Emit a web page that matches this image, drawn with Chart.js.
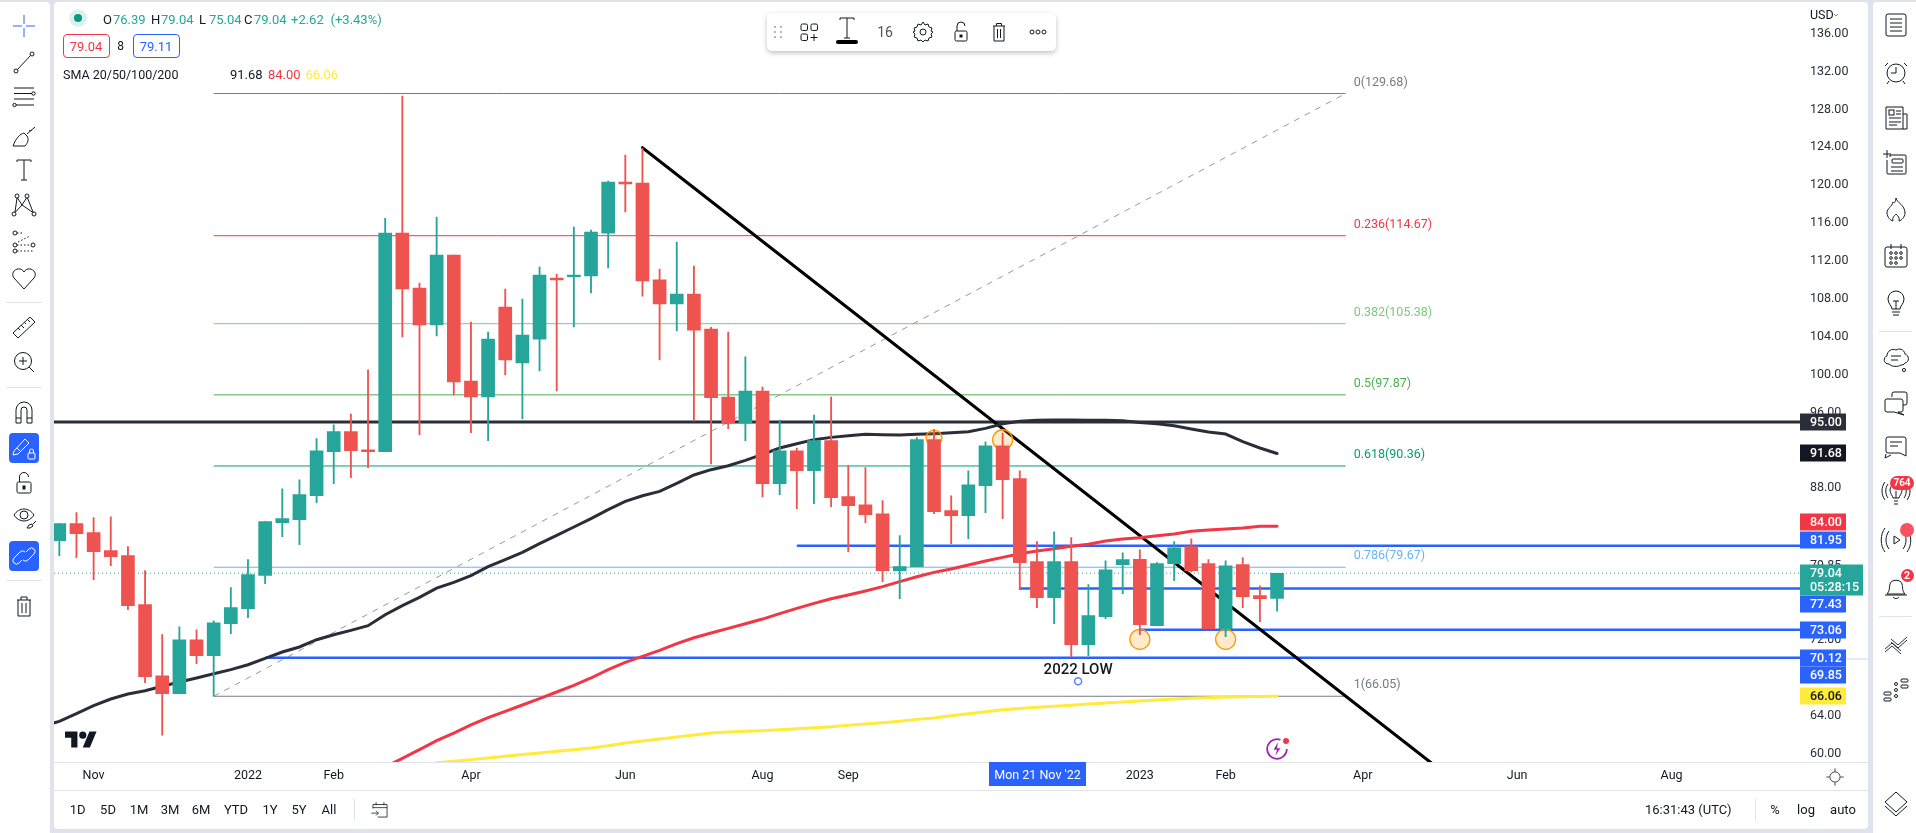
<!DOCTYPE html>
<html>
<head>
<meta charset="utf-8">
<title>Chart</title>
<script src="https://cdn.jsdelivr.net/npm/chart.js@4"></script>
<style>
  html,body{margin:0;padding:0;width:1916px;height:833px;overflow:hidden;background:#e0e3eb;font-family:Roboto,"Liberation Sans",sans-serif;color:#131722}
  .panel{position:absolute;background:#fff}
  .t{position:absolute;white-space:pre;line-height:16px;height:16px;margin-top:-8px;font-size:12.5px}
  .rule{position:absolute;background:#e0e3eb}
  svg.ic{position:absolute;fill:none;stroke:#131722;stroke-width:1;overflow:visible}
  canvas{position:absolute;left:0;top:0}
  #layer{position:absolute;left:0;top:0;width:1916px;height:833px}
</style>
</head>
<body>
<div class="panel" style="left:0;top:2px;width:50px;height:831px;border-radius:0 4px 0 0"></div>
<div class="panel" style="left:54px;top:2px;width:1814px;height:827px;border-radius:4px"></div>
<div class="panel" style="left:1873px;top:2px;width:43px;height:831px;border-radius:4px 0 0 0"></div>
<div class="rule" style="left:54px;top:762px;width:1814px;height:1px"></div>
<div class="rule" style="left:54px;top:790px;width:1814px;height:1px"></div>
<canvas id="chart" width="1916" height="833"></canvas>
<div id="layer"></div>
<script>
// candles, weekly, oldest first
const opens  = [82.47,84.27,83.32,81.42,80.89,75.72,68.22,66.32,72.02,70.33,73.71,75.3,78.8,84.37,84.7,87.23,91.87,93.98,92.07,91.87,114.95,109.15,105.24,112.63,99.33,97.64,107.14,101.23,103.76,110.2,110.34,110.42,114.95,120.34,120.23,110,107.46,108.52,104.82,97.64,94.9,98.27,88.49,91.97,89.86,93.03,87.12,86.27,85.32,79.31,79.73,93.14,85.64,85.11,88.28,92.5,89.02,80.26,76.46,80.26,71.5,74.45,79.94,80.5,73.5,80.05,81.84,80.05,73.18,79.94,76.67,76.39];
const highs  = [84.27,85.43,84.9,85,81.84,79.31,72.55,73.39,73.07,74.02,77.52,80.47,84.48,87.96,88.9,93.25,94.7,95.85,100.5,116.5,129.41,109.68,116.64,112.63,105.56,104.5,109.04,107.99,111.36,110.63,115.59,115.27,120.44,123.19,123.9,111.15,114,111.47,105,104.5,101.87,98.7,95.2,92.26,95.74,97.64,90.39,90.18,86.7,83,93.35,94.2,87.22,89.86,92.92,93.84,89.86,82.37,83.42,82.79,77.83,80.36,81.2,81.5,80.15,82.37,82.68,80.47,80.36,80.68,77.72,79.04];
const lows   = [80.89,80.68,78.36,79.83,75.19,67.49,61.93,66.32,69.49,66.05,72.66,74.35,77.93,82.9,82.05,86.48,88.5,89.12,90.18,91.87,103.98,93.66,104.08,97.85,93.87,93.03,99.97,95.32,100.39,98.28,105.03,108.62,111.26,117.17,108.3,101.55,104.61,95.1,90.57,94.3,93.03,87.1,87.33,85.85,86.38,86.06,81.31,84.37,78.15,76.35,79.73,85.32,82.16,82.68,85.43,84.8,77.3,75.4,73.71,70.23,70.33,74.24,76.88,72.55,73.5,78.25,79.17,73.18,72.34,75.4,73.92,75.04];
const closes = [84.27,83.21,81.31,80.78,75.61,68.12,66.32,72.02,70.33,73.81,75.4,78.9,84.48,84.8,87.33,91.97,93.98,91.97,91.87,114.95,109.04,105.24,112.63,99.23,97.64,103.76,101.55,104.19,110.52,110,110.52,115.06,120.34,120.13,109.89,107.46,108.52,104.71,97.57,94.9,98.27,88.49,91.97,89.86,93.03,87.01,86.17,85.22,79.31,79.73,93.14,85.53,85.11,88.38,92.5,88.91,80.15,76.46,80.26,71.5,74.56,79.41,80.47,73.6,80.05,81.73,79.31,73.18,79.83,76.56,76.35,79.04];

// moving averages, each starts at its own candle index
const sma50Start = -1;
const sma50 = [62.9,63.4,64.21,65.06,65.76,66.29,66.64,67.1,67.55,67.98,68.43,68.86,69.38,70.05,70.72,71.25,72.02,72.55,73.01,73.5,74.66,75.61,76.49,77.47,78.08,78.78,79.73,80.47,81.24,82.16,83.04,83.92,84.8,85.75,86.63,87.22,87.68,88.53,89.41,89.97,90.39,90.95,91.59,92.26,92.71,93.14,93.38,93.56,93.7,93.66,93.63,93.7,93.77,93.87,93.98,94.33,94.82,95.07,95.18,95.21,95.21,95.18,95.18,95.14,94.96,94.82,94.61,94.26,93.94,93.73,92.92,92.26,91.68];
const sma100Start = 19;
const sma100 = [58.58,59.5,60.41,61.36,62.17,63.02,63.79,64.46,65.13,65.8,66.5,67.2,67.98,68.86,69.63,70.26,70.9,71.6,72.23,72.73,73.22,73.71,74.2,74.77,75.33,75.86,76.35,76.74,77.16,77.62,78.15,78.67,79.13,79.48,79.9,80.33,80.71,81.1,81.38,81.63,81.88,82.09,82.44,82.65,82.79,83,83.18,83.46,83.6,83.71,83.81,83.99,84];
const sma200Start = 22;
const sma200 = [59.04,59.18,59.36,59.53,59.71,59.89,60.06,60.24,60.41,60.59,60.83,61.11,61.33,61.54,61.75,61.96,62.17,62.27,62.35,62.42,62.52,62.63,62.73,62.84,62.98,63.12,63.26,63.4,63.61,63.75,64,64.21,64.42,64.63,64.77,64.88,64.99,65.09,65.23,65.34,65.44,65.55,65.65,65.76,65.83,65.9,65.97,66,66.03,66.06];

// fib retracement drawing
const fibRatios = ['0','0.236','0.382','0.5','0.618','0.786','1'];
const fibPrices = [129.68,114.67,105.38,97.87,90.36,79.67,66.05];
const fibColors = ['#787b86','#f23645','#81c784','#4caf50','#089981','#64b5f6','#787b86'];
const fibFrom = 9, fibTo = 75;

// hand drawn levels
const blueLevels = [81.95,77.43,73.06,70.12];
const blueFrom = [43,56,63,12];
const level95 = 95;
const lastPrice = 79.04;
const trendX = [34,80];
const trendY = [123.96,59];
const circleX = [51,55,63,68];
const circleY = [93.31,93.13,72.06,72.06];
const lowNoteX = 59.4, lowNoteY = 68.76, lowHandleY = 67.63;

// axes
const priceTicks = [136,132,128,124,120,116,112,108,104,100,96,88,79.85,72,64,60];
const timeTicks = [2,11,16,24,33,41,46,63,68,76,85,94];
const timeLabels = ['Nov','2022','Feb','Apr','Jun','Aug','Sep','2023','Feb','Apr','Jun','Aug'];
// chart.js keeps the y scale about 11px from the top, so yMax is the price at that line
const xMin = -0.31, xMax = 101.49, yMin = 59.11, yMax = 138.36;

// price scale tags
const tagValues = [95,91.68,84,81.95,77.43,73.06,70.12,69.85,66.06];
const tagColors = ['#2a2e39','#131722','#f23645','#2962ff','#2962ff','#2962ff','#2962ff','#2962ff','#ffeb3b'];
const tagText   = ['#fff','#fff','#fff','#fff','#fff','#fff','#fff','#fff','#131722'];
const tagNudge  = [0,0,-4,-6,16,0,0,14.5,0];

const UP = '#26a69a', DOWN = '#ef5350';
const FONT = 'Roboto, "Liberation Sans", sans-serif';
const idx = opens.map((_,i)=>i);
const candleColor = idx.map(i=> closes[i] >= opens[i] ? UP : DOWN);

function seq(start, vals){ return vals.map((y,i)=>({x:start+i, y})); }
function lineSet(data, color, width, extra){
  return Object.assign({type:'line', data, borderColor:color, borderWidth:width, pointRadius:0, tension:0, order:5, borderCapStyle:'round'}, extra||{});
}

const datasets = [
  {type:'bar', data:idx.map(i=>({x:i,y:[opens[i],closes[i]]})), backgroundColor:candleColor, barThickness:13, grouped:false, order:0},
  {type:'bar', data:idx.map(i=>({x:i,y:[lows[i],highs[i]]})), backgroundColor:candleColor, barThickness:1.2, grouped:false, order:1},
  lineSet(seq(sma50Start,sma50),'#2a2e39',3,{order:3}),
  lineSet(seq(sma100Start,sma100),'#f23645',3,{order:3}),
  lineSet(seq(sma200Start,sma200),'#ffeb3b',3,{order:3}),
  lineSet([{x:trendX[0],y:trendY[0]},{x:trendX[1],y:trendY[1]}],'#000',3,{order:4}),
  lineSet([{x:xMin,y:level95},{x:xMax,y:level95}],'#2a2e39',3),
  lineSet([{x:xMin,y:lastPrice},{x:xMax,y:lastPrice}],UP,1,{borderDash:[1,3],borderCapStyle:'butt'}),
  lineSet([{x:fibFrom,y:fibPrices[6]},{x:fibTo,y:fibPrices[0]}],'#9598a1',1,{borderDash:[6,6],borderCapStyle:'butt',order:6}),
  {type:'line', data:circleX.map((x,i)=>({x,y:circleY[i]})), showLine:false, pointRadius:[8,10,10,10], pointBackgroundColor:'rgba(255,152,0,0.2)', pointBorderColor:'#ff9800', pointBorderWidth:1.3, order:2},
  {type:'line', data:[{x:lowNoteX,y:lowHandleY}], showLine:false, pointRadius:3.5, pointBackgroundColor:'#fff', pointBorderColor:'#5b82ff', pointBorderWidth:1.5, order:2}
];
fibPrices.forEach((p,i)=> datasets.push(lineSet([{x:fibFrom,y:p},{x:fibTo,y:p}],fibColors[i],1,{order:6,borderCapStyle:'butt'})));
blueLevels.forEach((p,i)=> datasets.push(lineSet([{x:blueFrom[i],y:p},{x:xMax,y:p}],'#2962ff',2.5,{order:5,borderCapStyle:'butt'})));

// labels on the drawings and the tags on the price scale
const overlay = {
  id:'overlay',
  afterDraw(chart){
    const {ctx, scales:{x,y}} = chart;
    ctx.save();
    ctx.textBaseline = 'middle';
    ctx.textAlign = 'left';
    ctx.font = '12.5px '+FONT;
    fibPrices.forEach((p,i)=>{
      ctx.fillStyle = fibColors[i];
      ctx.fillText(fibRatios[i]+'('+p.toFixed(2)+')', x.getPixelForValue(fibTo)+8, y.getPixelForValue(p)-11);
    });
    ctx.fillStyle = '#131722';
    ctx.font = '500 15px '+FONT;
    ctx.textAlign = 'center';
    ctx.fillText('2022 LOW', x.getPixelForValue(lowNoteX), y.getPixelForValue(lowNoteY));

    ctx.textAlign = 'left';
    ctx.font = '500 12.5px '+FONT;
    const left = x.right, h = 17;
    tagValues.forEach((v,i)=>{
      const py = Math.round(y.getPixelForValue(v)+tagNudge[i]);
      ctx.fillStyle = tagColors[i];
      ctx.fillRect(left, py-h/2, 46, h);
      ctx.fillStyle = tagText[i];
      ctx.fillText(v.toFixed(2), left+10, py+0.5);
    });
    // countdown tag for the last candle
    const py = Math.round(y.getPixelForValue(lastPrice));
    ctx.fillStyle = UP;
    ctx.fillRect(left, py-8.5, 63, 31);
    ctx.fillStyle = '#fff';
    ctx.fillText(lastPrice.toFixed(2), left+10, py+0.5);
    ctx.fillText('05:28:15', left+10, py+14.5);
    ctx.restore();
  }
};

new Chart(document.getElementById('chart'), {
  type:'bar',
  data:{datasets},
  plugins:[overlay],
  options:{
    responsive:false,
    animation:false,
    layout:{padding:{left:54,top:2,right:50,bottom:43}},
    plugins:{legend:{display:false},tooltip:{enabled:false}},
    events:[],
    scales:{
      x:{
        type:'linear', offset:false, min:xMin, max:xMax,
        grid:{display:false,drawTicks:false}, border:{display:false},
        afterBuildTicks(s){ s.ticks = timeTicks.map(value=>({value})); },
        afterFit(s){ s.height = 28; s.paddingLeft = 0; s.paddingRight = 0; },
        ticks:{autoSkip:false,maxRotation:0,padding:6,color:'#131722',font:{family:FONT,size:12.5},callback:v=>timeLabels[timeTicks.indexOf(v)]}
      },
      y:{
        type:'linear', position:'right', min:yMin, max:yMax,
        grid:{display:false,drawTicks:false}, border:{display:false},
        afterBuildTicks(s){ s.ticks = priceTicks.map(value=>({value})); },
        afterFit(s){ s.width = 66; s.paddingTop = 0; s.paddingBottom = 0; },
        ticks:{autoSkip:false,padding:10,crossAlign:'near',color:'#2a2e39',font:{family:FONT,size:12.5},callback:v=>v.toFixed(2)}
      }
    }
  }
});

// ---- screen chrome around the chart ----
const layer = document.getElementById('layer');
function txt(x,y,s,color,size,weight,anchor){
  const d = document.createElement('div');
  d.className = 't';
  d.textContent = s;
  d.style.left = x+'px'; d.style.top = y+'px';
  if(color) d.style.color = color;
  if(size) d.style.fontSize = size+'px';
  if(weight) d.style.fontWeight = weight;
  if(anchor==='c') d.style.transform = 'translateX(-50%)';
  layer.appendChild(d);
  return d;
}
function box(x,y,w,h,css){
  const d = document.createElement('div');
  d.style.cssText = `position:absolute;left:${x}px;top:${y}px;width:${w}px;height:${h}px;box-sizing:border-box;`+(css||'');
  layer.appendChild(d);
  return d;
}
function icon(cx,cy,body,color,size){
  const s = size||28;
  const wrap = document.createElementNS('http://www.w3.org/2000/svg','svg');
  wrap.setAttribute('class','ic');
  wrap.setAttribute('viewBox','0 0 28 28');
  wrap.setAttribute('width',s); wrap.setAttribute('height',s);
  wrap.style.left = (cx-s/2)+'px'; wrap.style.top = (cy-s/2)+'px';
  if(color) wrap.style.stroke = color;
  wrap.innerHTML = body;
  layer.appendChild(wrap);
}

// legend block
box(68.5,9,18,18,'border-radius:50%;background:rgba(8,153,129,.14)');
box(73.5,14,8,8,'border-radius:50%;background:#089981');
[['O','76.39',103],['H','79.04',151],['L','75.04',199],['C','79.04',244]].forEach(p=>{
  txt(p[2],19.5,p[0],'#131722',13);
  txt(p[2]+10,19.5,p[1],UP,13);
});
txt(291,19.5,'+2.62',UP,13);
txt(330.5,19.5,'(+3.43%)',UP,13);
box(62.5,34,47,24,'border:1px solid #f23645;border-radius:4px');
txt(86,46.5,'79.04','#f23645',13,null,'c');
txt(120.5,46,'8','#131722',12,null,'c');
box(132.5,34,47,24,'border:1px solid #2962ff;border-radius:4px');
txt(156,46.5,'79.11','#2962ff',13,null,'c');
txt(63,74.5,'SMA 20/50/100/200','#131722',12.5);
txt(230,74.5,'91.68','#131722',13);
txt(268,74.5,'84.00','#f23645',13);
txt(305.5,74.5,'66.06','#ffeb3b',13);

// floating drawing toolbar
box(766.5,13,289,38,'background:#fff;border-radius:5px;box-shadow:0 2px 5px rgba(0,0,0,.25)');
icon(778,32,'<g fill="#b2b5be" stroke="none"><rect x="10" y="8" width="2" height="2"/><rect x="16" y="8" width="2" height="2"/><rect x="10" y="13" width="2" height="2"/><rect x="16" y="13" width="2" height="2"/><rect x="10" y="18" width="2" height="2"/><rect x="16" y="18" width="2" height="2"/></g>');
icon(809,32,'<rect x="6" y="6" width="6.5" height="6.5" rx="1.5"/><rect x="16" y="6" width="6.5" height="6.5" rx="1.5"/><rect x="6" y="16" width="6.5" height="6.5" rx="1.5"/><path d="M19 16v7M15.5 19.5h7"/>');
icon(847,28,'<path d="M14 4v20M7 4h14M7 4v2M21 4v2M11 24h6"/>');
box(836,39.5,22,4,'background:#000;border-radius:2px');
txt(885,32,'16','#50535e',14,null,'c');
icon(923,32,'<circle cx="14" cy="14" r="3"/><path d="M14 4l2 3 3-1 1 3 3 1-1 3 2 1-2 2 1 3-3 1-1 3-3-1-2 2-2-2-3 1-1-3-3-1 1-3-2-2 2-1-1-3 3-1 1-3 3 1z"/>');
icon(961,32,'<rect x="8" y="13" width="12" height="10" rx="1.5"/><path d="M10 13V8a4 4 0 0 1 8 0"/><rect x="13" y="17" width="2" height="2" fill="#131722"/>');
icon(999,32,'<path d="M8 8h12M9 8v15h10V8M11.5 8V5.5h5V8M12.5 11v9M15.5 11v9"/>');
icon(1037.5,32,'<circle cx="8" cy="14" r="2"/><circle cx="14" cy="14" r="2"/><circle cx="20" cy="14" r="2"/>');

// left toolbar
icon(24,26,'<path d="M14 3v9M14 16v9M3 14h9M16 14h9"/>','#2962ff');
icon(24,62,'<circle cx="6" cy="23" r="2"/><circle cx="22" cy="6" r="2"/><path d="M7.4 21.6L20.6 7.4"/>');
icon(24,97,'<path d="M4 5h20M4 10.5h18M4 16h20M6 22h18"/><circle cx="23.5" cy="10.5" r="1.7"/><circle cx="4.5" cy="22" r="1.7"/>');
icon(24,135,'<path d="M3 25h12c3-3 4-7 2-10l-3-3c-4 1-8 5-11 13zM17 13l8-7M19 9c1 1 2 1 3 0"/>');
icon(24,170,'<path d="M14 4v20M7 4h14M7 4v2M21 4v2M11 24h6"/>');
icon(24,205,'<circle cx="7" cy="5" r="2"/><circle cx="17" cy="5" r="2"/><circle cx="4" cy="23" r="2"/><circle cx="24" cy="23" r="2"/><path d="M7.5 7L12 14 5 21.5M16.5 7L12 14 23 21.5M7 7l-2 14M17.5 7l5.5 14"/>');
icon(24,242,'<circle cx="5" cy="5" r="2"/><circle cx="5" cy="17" r="2"/><circle cx="5" cy="23" r="2"/><circle cx="23" cy="17" r="2"/><path d="M7 5h6M7 17h14M7 23h17M8 14l2-1 2-1 2-1 2-1 2-1 2-1" stroke-dasharray="1.5 2"/>');
icon(24,278,'<path d="M14 25L4 14c-5-7 6-13 10-6 4-7 15-1 10 6z"/>');
box(6,302,36,1,'background:#e0e3eb');
icon(24,327,'<path d="M3 20L20 4l5 5-17 16zM8 15l2 2M11 12l3 3M14 9l2 2M17 6l3 3"/>');
icon(24,362,'<circle cx="13" cy="13" r="8.5"/><path d="M19 19l5 5M13 9v8M9 13h8"/>');
box(6,387,36,1,'background:#e0e3eb');
icon(24,412,'<path d="M6 25V12a8 8 0 0 1 16 0v13h-5V12a3 3 0 0 0-6 0v13zM6 20h5M17 20h5"/>');
box(9,433,30,30,'background:#2962ff;border-radius:4px');
icon(24,448,'<path d="M4 17L15 5l4 4L8 20l-5 1zM7 14l4 4"/><rect x="18" y="19" width="7" height="6" rx="1"/><path d="M19.5 19v-2a2 2 0 0 1 4 0v2"/>','#fff');
icon(24,484,'<rect x="7" y="12" width="14" height="11" rx="1.5"/><path d="M9.5 12V7a4.5 4.5 0 0 1 9 0"/><rect x="13" y="16" width="2" height="3" fill="#131722"/>');
icon(24,517,'<path d="M4 12c5-8 15-8 20 0-5 8-15 8-20 0z"/><circle cx="14" cy="12" r="4"/><path d="M17 25l2-3 3-1 1 2-3 2zM23 21l3-3"/>');
box(9,541,30,30,'background:#2962ff;border-radius:4px');
icon(24,556,'<path d="M12 18l-3 3a3.5 3.5 0 0 1-5-5l6-6a3.5 3.5 0 0 1 5 0M16 10l3-3a3.5 3.5 0 0 1 5 5l-6 6a3.5 3.5 0 0 1-5 0"/>','#fff');
box(6,580,36,1,'background:#e0e3eb');
icon(24,606,'<path d="M7 8h14M8 8v16h12V8M11 8V5h6v3M12 11v10M16 11v10"/>');

// right toolbar
icon(1896,25,'<rect x="4" y="3" width="20" height="22" rx="2"/><path d="M8 8h12M8 12h12M8 16h12M8 20h12"/>');
icon(1896,72,'<circle cx="14" cy="15" r="9"/><path d="M14 9v6H9M6 5l-3 3M22 5l3 3M7 23l-2 3M21 23l2 3"/>');
icon(1896,118,'<path d="M4 3h17v22H4zM21 10h4v15h-4"/><rect x="7" y="6" width="5" height="5"/><path d="M14 7h5M14 10h5M7 14h12M7 18h12M7 21h8"/>');
icon(1896,163,'<path d="M8 8V6h15a1 1 0 0 1 1 1v17a1 1 0 0 1-1 1H6a1 1 0 0 1-1-1V11M5 1v8M1 5h8"/><rect x="10" y="10" width="11" height="4" rx="1"/><path d="M9 18h12M9 22h12"/>');
icon(1896,210,'<path d="M14 2c1 5 9 7 9 15 0 4-4 8-6 8 1-3-1-5-3-7-2 2-4 4-3 7-2 0-6-4-6-8 0-5 5-6 6-11 1 1 2 2 3-4z"/>');
icon(1896,256,'<rect x="3" y="5" width="22" height="20" rx="2"/><path d="M9 2v5M19 2v5"/><g><circle cx="9" cy="11" r="1.3"/><circle cx="14" cy="11" r="1.3"/><circle cx="19" cy="11" r="1.3"/><circle cx="9" cy="16" r="1.3"/><circle cx="14" cy="16" r="1.3"/><circle cx="19" cy="16" r="1.3"/><circle cx="9" cy="21" r="1.3"/><circle cx="14" cy="21" r="1.3"/></g>');
icon(1896,302,'<path d="M10 21c0-3-4-5-4-10a8 8 0 0 1 16 0c0 5-4 7-4 10zM14 21v-8M11 13h6M10 24h8M11 27h6"/>');
box(1879,331,33,1,'background:#e0e3eb');
icon(1896,358,'<path d="M7 20c-6 0-6-7-2-8 0-5 5-8 9-6 3-2 8-1 9 4 4 1 5 8 0 9-1 2-3 2-4 2-3 2-9 2-12-1z"/><path d="M9 12h10M9 16h7"/><circle cx="22" cy="26" r="1.6"/>');
icon(1896,403,'<path d="M10 8V5a2 2 0 0 1 2-2h11a2 2 0 0 1 2 2v9a2 2 0 0 1-2 2h-2M4 10h15a2 2 0 0 1 2 2v9a2 2 0 0 1-2 2h-3l6 3-10-3H5a2 2 0 0 1-2-2v-9a2 2 0 0 1 1-2z"/>');
icon(1896,448,'<path d="M6 3h16a2 2 0 0 1 2 2v17l-6-3H6a2 2 0 0 1-2-2V5a2 2 0 0 1 2-2zM8 8h12M8 12h8M4 20l-1 4 6-3"/>');
icon(1896,493,'<path d="M11 19c0-2-3-4-3-8a6 6 0 0 1 12 0c0 4-3 6-3 8zM14 19v-7M12 22h4M12 25h4M6 5c-3 4-3 10 0 14M3 3c-4 5-4 13 0 18M22 5c3 4 3 10 0 14M25 3c4 5 4 13 0 18"/>');
box(1890,476,24,14,'background:#f23645;border-radius:7px');
txt(1902,483,'764','#fff',10,700,'c');
icon(1896,540,'<path d="M12 10v8l6-4zM7 5c-4 5-4 13 0 18M3 2c-5 6-5 18 0 24M21 5c4 5 4 13 0 18M25 2c5 6 5 18 0 24"/>');
box(1900,523,14,14,'background:#f7525f;border-radius:50%');
icon(1896,587,'<path d="M5 21c3-3 2-6 3-10 1-5 11-5 12 0 1 4 0 7 3 10zM3 22h22M11 24c1 2 5 2 6 0"/>');
box(1900.5,569,13,13,'background:#f23645;border-radius:50%');
txt(1907,576,'2','#fff',10.5,700,'c');
box(1879,616,33,1,'background:#e0e3eb');
icon(1896,644,'<path d="M3 19l7-6 9 8M9 9l7 6 9-8M3 22l7-6 9 8M9 12l7 6 9-8" stroke-width=".9"/>');
icon(1896,690,'<rect x="19" y="3" width="7" height="3" rx="1"/><rect x="19" y="9" width="7" height="3" rx="1"/><circle cx="14" cy="8" r="1.5"/><circle cx="14" cy="14" r="1.5"/><circle cx="14" cy="20" r="1.5"/><rect x="2" y="16" width="7" height="3" rx="1"/><rect x="2" y="22" width="7" height="3" rx="1"/>');
icon(1896,803,'<path d="M14 3l11 10-11 10L3 13zM3 17l11 10 11-10" />');

// price scale header and time scale extras
txt(1810,14.5,'USD','#131722',12.5);
icon(1836,15,'<path d="M10 12l4 4 4-4" />',null,14);
box(1846,658,22,1.5,'background:#e3ecff');
box(989,762,97,24,'background:#2962ff');
txt(1037.5,774.5,"Mon 21 Nov '22",'#fff',12.5,null,'c');
icon(1834.5,776.5,'<circle cx="14" cy="14" r="6.5"/><path d="M14 3v4M14 21v4M3 14h4M21 14h4"/>',null,22);

// bottom bar
[['1D',77.6],['5D',108],['1M',139],['3M',170],['6M',201],['YTD',236],['1Y',270],['5Y',299],['All',329]].forEach(p=>txt(p[1],810,p[0],'#131722',13,null,'c'));
box(354,799,1,22,'background:#e0e3eb');
icon(379.5,810,'<path d="M5 12V7h18v16H11M5 11h18M9 4v4M19 4v4M3 18h9M9 15l3 3-3 3"/>',null,22);
txt(1645,810,'16:31:43 (UTC)','#131722',13);
box(1755,799,1,22,'background:#e0e3eb');
txt(1775,810,'%','#131722',13,null,'c');
txt(1806,810,'log','#131722',13,null,'c');
txt(1843,810,'auto','#131722',13,null,'c');

// tradingview mark
const mark = document.createElementNS('http://www.w3.org/2000/svg','svg');
mark.setAttribute('viewBox','0 0 36 28');
mark.setAttribute('width','32'); mark.setAttribute('height','25');
mark.style.cssText = 'position:absolute;left:65px;top:728px';
mark.innerHTML = '<path fill="#131722" d="M14 22H7V11H0V4h14v18zM28 22h-8l7.5-18h8L28 22z"/><circle fill="#131722" cx="20" cy="8" r="4"/>';
layer.appendChild(mark);

// purple flash
icon(1277,749,'<circle cx="14" cy="14" r="11.5" stroke="#9c27b0" stroke-width="2" stroke-dasharray="58 14"/><path d="M15 6l-5 9h4l-2 7 6-9h-4z" fill="#9c27b0" stroke="none"/>','#9c27b0',24);
box(1283,738,6,6,'background:#f23645;border-radius:50%');
</script>
</body>
</html>
